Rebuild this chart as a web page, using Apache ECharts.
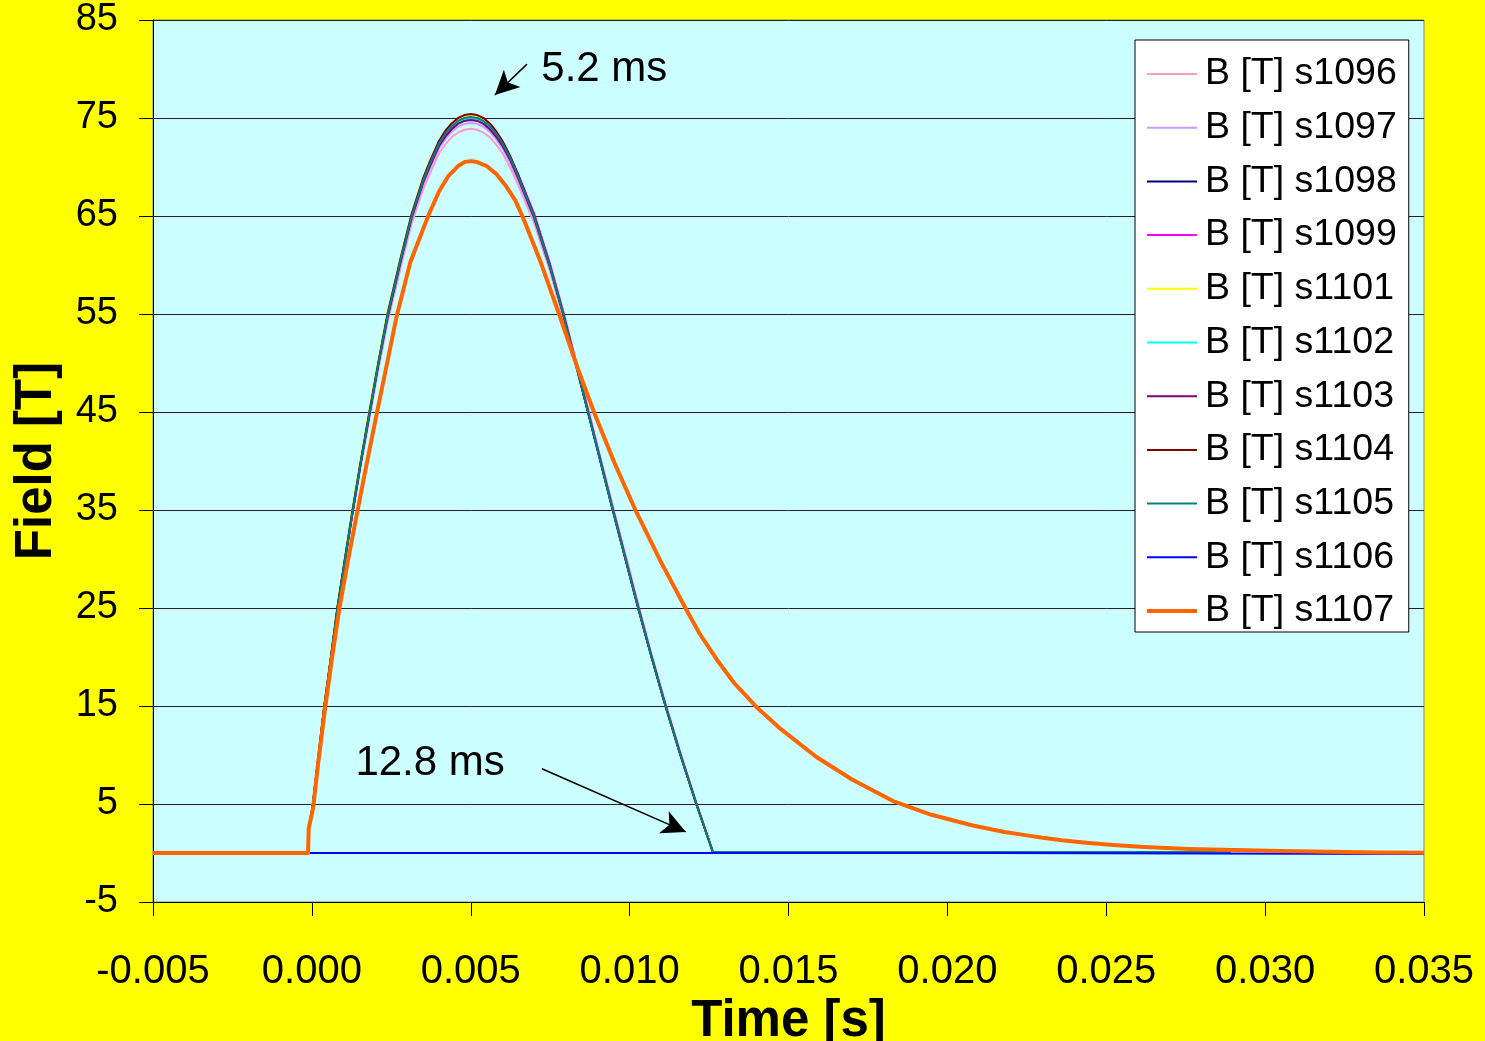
<!DOCTYPE html>
<html>
<head>
<meta charset="utf-8">
<script src="https://cdn.jsdelivr.net/npm/echarts@6/dist/echarts.min.js"></script>
<style>
  html, body { margin: 0; padding: 0; background: #ffff00; }
  #chart { width: 1485px; height: 1041px; }
</style>
</head>
<body>
<div id="chart"></div>
<script>
// Time samples (s) shared by the pulse shots s1096 - s1105
const tMain = [-0.005, -0.00012, -0.0001, 0.00002, 0.0002, 0.00038, 0.0006, 0.0008, 0.00104, 0.00128,
  0.00154, 0.00181, 0.00209, 0.00238, 0.0028, 0.00314, 0.0035, 0.00371, 0.004, 0.0042,
  0.0044, 0.0046, 0.0048, 0.005, 0.0052, 0.0054, 0.0056, 0.00581, 0.006, 0.00623,
  0.0065, 0.00699, 0.00748, 0.00791, 0.0083, 0.00869, 0.00908, 0.00947, 0.00987, 0.01027,
  0.01069, 0.01113, 0.0116, 0.0121, 0.01262, 0.0130, 0.0213, 0.0289];

// Field values (T) for each shot
const b1096 = [0, 0, 2.4, 4.5, 9.5, 14.4, 19.7, 24.6, 29.6, 34.5, 39.5, 44.3, 49.3, 54.1, 59.8, 64.2, 67.7, 69.3, 71.4, 72.3,
  73.05, 73.5, 73.8, 73.9, 73.8, 73.5, 73.05, 72.25, 71.4, 70.0, 68.1, 64.3, 59.5, 54.6, 49.8, 45.0, 40.0, 35.0, 30.0, 25.0,
  20.0, 15.0, 10.0, 5.0, 0.1, 0.1, 0.1, 0.1];
const b1097 = [0, 0, 2.5, 4.6, 9.6, 14.5, 19.8, 24.7, 29.8, 34.7, 39.7, 44.55, 49.6, 54.45, 60.2, 64.6, 68.15, 69.8, 71.9, 72.85,
  73.6, 74.1, 74.4, 74.5, 74.4, 74.1, 73.6, 72.8, 71.9, 70.5, 68.55, 64.65, 59.75, 54.8, 49.9, 45.0, 40.0, 35.0, 30.0, 25.0,
  20.0, 15.0, 10.0, 5.0, 0.1, 0.1, 0.1, 0.1];
const b1098 = [0, 0, 2.5, 4.6, 9.6, 14.6, 19.9, 24.8, 29.9, 34.8, 39.9, 44.8, 49.9, 54.8, 60.6, 65.0, 68.55, 70.2, 72.3, 73.3,
  74.05, 74.6, 74.9, 75.0, 74.9, 74.6, 74.05, 73.25, 72.3, 70.9, 68.95, 65.0, 60.0, 55.0, 50.0, 45.0, 40.0, 35.0, 30.0, 25.0,
  20.0, 15.0, 10.0, 5.0, 0.1, 0.1, 0.1, 0.1];
const b1099 = [0, 0, 2.5, 4.6, 9.6, 14.6, 19.9, 24.8, 29.9, 34.8, 39.9, 44.8, 49.9, 54.8, 60.6, 65.0, 68.5, 70.1, 72.2, 73.2,
  73.95, 74.5, 74.8, 74.9, 74.8, 74.55, 74.05, 73.3, 72.4, 71.1, 69.2, 65.3, 60.3, 55.3, 50.3, 45.3, 40.3, 35.3, 30.3, 25.3,
  20.2, 15.2, 10.2, 5.1, 0.1, 0.1, 0.1, 0.1];
const b1101 = [0, 0, 2.6, 4.8, 9.9, 15.0, 20.2, 25.2, 30.3, 35.2, 40.3, 45.2, 50.3, 55.2, 60.9, 65.3, 68.9, 70.6, 72.6, 73.6,
  74.3, 74.85, 75.1, 75.2, 75.1, 74.8, 74.2, 73.4, 72.4, 71.0, 69.0, 65.0, 60.0, 55.0, 50.0, 45.0, 40.0, 35.0, 30.0, 25.0,
  20.0, 15.0, 10.0, 5.0, 0.1, 0.1, 0.1, 0.1];
const b1102 = [0, 0, 2.5, 4.6, 9.6, 14.7, 20.0, 24.9, 30.0, 34.9, 40.0, 44.9, 50.0, 54.9, 60.7, 65.1, 68.7, 70.3, 72.4, 73.35,
  74.1, 74.6, 74.9, 75.0, 74.9, 74.6, 74.1, 73.3, 72.35, 70.95, 69.0, 65.0, 60.0, 55.0, 50.0, 45.0, 40.0, 35.0, 30.0, 25.0,
  20.0, 15.0, 10.0, 5.0, 0.1, 0.1, 0.1, 0.1];
const b1103 = [0, 0, 2.5, 4.6, 9.6, 14.6, 19.9, 24.8, 29.9, 34.7, 39.8, 44.7, 49.8, 54.6, 60.4, 64.8, 68.4, 70.05, 72.15, 73.1,
  73.85, 74.4, 74.7, 74.8, 74.7, 74.4, 73.85, 73.05, 72.15, 70.8, 68.8, 64.85, 59.9, 55.0, 50.0, 45.0, 40.0, 35.0, 30.0, 25.0,
  20.0, 15.0, 10.0, 5.0, 0.1, 0.1, 0.1, 0.1];
const b1104 = [0, 0, 2.5, 4.7, 9.7, 14.8, 20.0, 25.0, 30.0, 35.0, 40.0, 45.0, 50.0, 55.0, 60.8, 65.2, 68.85, 70.55, 72.65, 73.7,
  74.45, 75.0, 75.3, 75.4, 75.3, 75.0, 74.45, 73.6, 72.65, 71.2, 69.15, 65.1, 60.1, 55.0, 50.0, 45.0, 40.0, 35.0, 30.0, 25.0,
  20.0, 15.0, 10.0, 5.0, 0.1, 0.1, 0.1, 0.1];
const b1105 = [0, 0, 2.5, 4.6, 9.6, 14.6, 19.9, 24.8, 29.9, 34.8, 39.9, 44.8, 49.9, 54.8, 60.6, 65.0, 68.6, 70.3, 72.4, 73.4,
  74.15, 74.7, 75.0, 75.1, 75.0, 74.7, 74.15, 73.35, 72.4, 71.0, 69.0, 65.0, 60.0, 55.0, 50.0, 45.0, 40.0, 35.0, 30.0, 25.0,
  20.0, 15.0, 10.0, 5.0, 0.1, 0.1, 0.1, 0.1];

// Shot s1106 stayed flat
const t1106 = [-0.005, 0.0213, 0.02131, 0.035];
const b1106 = [0, 0, -0.1, -0.1];

// Shot s1107: lower peak with a long decay tail
const t1107 = [-0.005, -0.00012, -0.0001, 0.00004, 0.0002, 0.00041, 0.00063, 0.00086, 0.00114, 0.00143,
  0.00173, 0.00204, 0.00235, 0.00267, 0.0031, 0.00366, 0.004, 0.0043, 0.0046, 0.0048,
  0.005, 0.0052, 0.0055, 0.0058, 0.00612, 0.0064, 0.00665, 0.0072, 0.0078, 0.00835,
  0.0089, 0.00955, 0.01021, 0.011, 0.01179, 0.0122, 0.01273, 0.0133, 0.01399, 0.0147,
  0.01588, 0.0170, 0.01829, 0.0195, 0.0208, 0.0218, 0.0225, 0.023, 0.0236, 0.0242,
  0.0251, 0.0262, 0.0276, 0.0305, 0.0336, 0.035];
const b1107 = [0, 0, 2.5, 4.6, 9.2, 14.6, 19.8, 24.8, 29.9, 34.8,
  39.8, 44.8, 49.7, 54.8, 60.3, 65.0, 67.5, 69.1, 70.1, 70.5,
  70.6, 70.5, 70.1, 69.3, 68.0, 66.6, 64.8, 60.3, 54.8, 49.6,
  44.8, 39.6, 34.8, 29.6, 24.8, 22.4, 19.8, 17.3, 14.9, 12.8,
  9.8, 7.5, 5.3, 3.9, 2.8, 2.15, 1.8, 1.55, 1.3, 1.1,
  0.85, 0.62, 0.42, 0.2, 0.06, 0.03];

const seriesNames = ['B [T] s1096', 'B [T] s1097', 'B [T] s1098', 'B [T] s1099', 'B [T] s1101',
  'B [T] s1102', 'B [T] s1103', 'B [T] s1104', 'B [T] s1105', 'B [T] s1106', 'B [T] s1107'];
const seriesColors = ['#ff99cc', '#cc99ff', '#000080', '#ff00ff', '#ffff00',
  '#00ffff', '#800080', '#800000', '#008080', '#0000ff', '#ff6600'];

// Axis ticks
const xMin = -0.005, xMax = 0.035, xStep = 0.005;
const yMin = -5, yMax = 85, yStep = 10;

// Annotations (data coordinates)
const notes = [
  { text: '5.2 ms', t: 0.00722, v: 80.0 },
  { text: '12.8 ms', t: 0.00137, v: 9.1 }
];
const arrows = [
  { from: [0.00677, 80.5], to: [0.00576, 77.35] },
  { from: [0.00724, 8.6], to: [0.01177, 2.15] }
];

const pairs = (ts, vs) => ts.map((t, i) => [t, vs[i]]);
const mainValues = [b1096, b1097, b1098, b1099, b1101, b1102, b1103, b1104, b1105];

const FONT = '"Liberation Sans", Arial, sans-serif';
const thinIcon = 'path://M0 0H50V2H0Z';
const thickIcon = 'path://M0 0H50V4H0Z';

const series = [];
mainValues.forEach((vals, i) => {
  series.push({
    name: seriesNames[i], type: 'line', symbol: 'none',
    data: pairs(tMain, vals),
    lineStyle: { color: seriesColors[i], width: 2, join: 'round' },
    itemStyle: { color: seriesColors[i] },
    z: 2 + i
  });
});
series.push({
  name: seriesNames[9], type: 'line', symbol: 'none',
  data: pairs(t1106, b1106),
  lineStyle: { color: seriesColors[9], width: 2 },
  itemStyle: { color: seriesColors[9] },
  z: 12
});
series.push({
  name: seriesNames[10], type: 'line', symbol: 'none',
  data: pairs(t1107, b1107),
  lineStyle: { color: seriesColors[10], width: 4, join: 'round' },
  itemStyle: { color: seriesColors[10] },
  z: 13,
  markLine: {
    silent: true, animation: false,
    symbol: ['none', 'arrow'], symbolSize: [18, 24],
    label: { show: false },
    lineStyle: { color: '#000', width: 1.5, type: 'solid' },
    itemStyle: { color: '#000' },
    emphasis: { disabled: true },
    data: arrows.map(a => [{ coord: a.from }, { coord: a.to }])
  }
});

const chart = echarts.init(document.getElementById('chart'));
chart.setOption({
  animation: false,
  backgroundColor: '#ffff00',
  grid: {
    left: 153, right: 61, top: 20, bottom: 139,
    outerBoundsMode: 'none', containLabel: false,
    show: true, backgroundColor: '#ccffff', borderColor: '#808080', borderWidth: 1
  },
  legend: {
    orient: 'vertical', left: 1135, top: 40,
    backgroundColor: '#ffffff', borderColor: '#000', borderWidth: 1,
    padding: [14, 12, 1, 12],
    itemWidth: 50, itemHeight: 14, itemGap: 13.7,
    textStyle: { fontFamily: FONT, fontSize: 37.5, color: '#000', lineHeight: 40, padding: [0, 0, 0, 3] },
    data: seriesNames.map((n, i) => ({ name: n, icon: i === 10 ? thickIcon : thinIcon }))
  },
  xAxis: {
    type: 'value', min: xMin, max: xMax, interval: xStep,
    name: 'Time [s]', nameLocation: 'middle', nameGap: 94,
    nameTextStyle: { fontFamily: FONT, fontSize: 51, fontWeight: 'bold', color: '#000' },
    axisLine: { show: true, onZero: false, lineStyle: { color: '#000', width: 1 } },
    axisTick: { show: true, inside: false, length: 14, lineStyle: { color: '#000' } },
    axisLabel: { fontFamily: FONT, fontSize: 40, color: '#000', margin: 50, formatter: v => v.toFixed(3) },
    splitLine: { show: false }
  },
  yAxis: {
    type: 'value', min: yMin, max: yMax, interval: yStep,
    name: 'Field [T]', nameLocation: 'middle', nameGap: 91,
    nameTextStyle: { fontFamily: FONT, fontSize: 51, fontWeight: 'bold', color: '#000' },
    axisLine: { show: true, onZero: false, lineStyle: { color: '#000', width: 1 } },
    axisTick: { show: true, inside: false, length: 14, lineStyle: { color: '#000' } },
    axisLabel: { fontFamily: FONT, fontSize: 38, color: '#000', margin: 35 },
    splitLine: { show: true, lineStyle: { color: '#222', width: 1 } }
  },
  series: series
});

// Place the annotation texts from their data coordinates
chart.setOption({
  graphic: notes.map(n => {
    const p = chart.convertToPixel({ gridIndex: 0 }, [n.t, n.v]);
    return {
      type: 'text', x: p[0], y: p[1], z: 100, silent: true,
      style: { text: n.text, fontFamily: FONT, fontSize: 42, fill: '#000', verticalAlign: 'middle', align: 'left' }
    };
  })
});
</script>
</body>
</html>
